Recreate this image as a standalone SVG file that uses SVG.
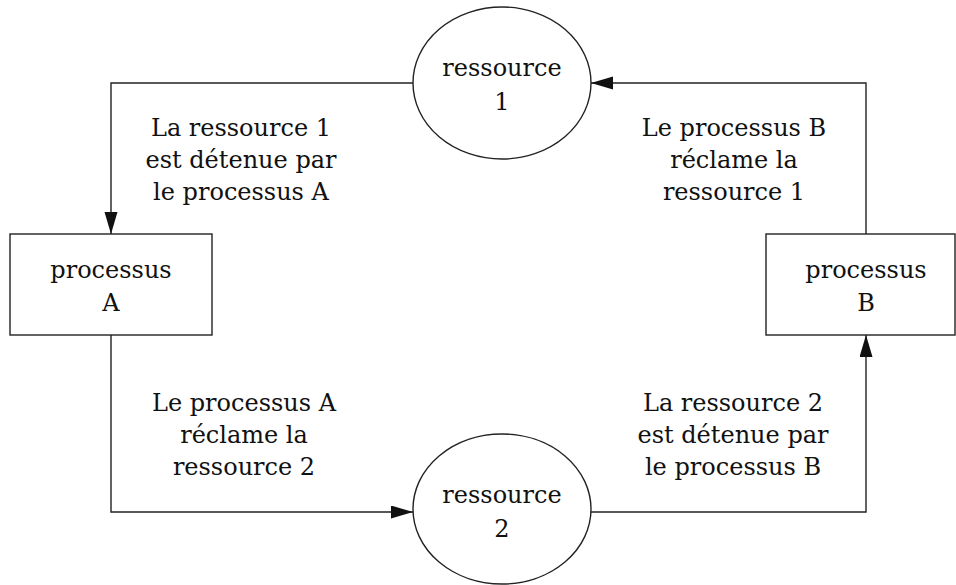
<svg xmlns="http://www.w3.org/2000/svg" width="956" height="585" viewBox="0 0 956 585">
<style>
.shape{fill:#fff;stroke:#222;stroke-width:1.4}
.conn{fill:none;stroke:#222;stroke-width:1.4}
text{font-family:"DejaVu Serif","Liberation Serif",serif;font-size:24px;fill:#111;text-anchor:middle}
</style>
<defs>
<marker id="arr" markerUnits="userSpaceOnUse" markerWidth="24" markerHeight="14" refX="22" refY="6.5" orient="auto">
<path d="M0,0 L22,6.5 L0,13 Z" fill="#111"/>
</marker>
</defs>
<rect width="956" height="585" fill="#fff"/>
<g id="connectors">
<polyline class="conn" points="413,83 111,83 111,234" marker-end="url(#arr)"/>
<polyline class="conn" points="111,335 111,512 413,512" marker-end="url(#arr)"/>
<polyline class="conn" points="591,512 866,512 866,335" marker-end="url(#arr)"/>
<polyline class="conn" points="866,234 866,83 591,83" marker-end="url(#arr)"/>
</g>
<g id="ressource1">
<ellipse class="shape" cx="502" cy="83" rx="89" ry="76"/>
<text x="502" y="76">ressource</text>
<text x="502" y="110">1</text>
</g>
<g id="ressource2">
<ellipse class="shape" cx="502" cy="509" rx="89" ry="75"/>
<text x="502" y="503">ressource</text>
<text x="502" y="537">2</text>
</g>
<g id="processusA">
<rect class="shape" x="10" y="234" width="202" height="101"/>
<text x="111" y="278">processus</text>
<text x="111" y="311">A</text>
</g>
<g id="processusB">
<rect class="shape" x="766" y="234" width="189" height="101"/>
<text x="866" y="278">processus</text>
<text x="866" y="311">B</text>
</g>
<g id="label1">
<text x="241" y="136">La ressource 1</text>
<text x="241" y="168">est détenue par</text>
<text x="241" y="200">le processus A</text>
</g>
<g id="label2">
<text x="734" y="136">Le processus B</text>
<text x="734" y="168">réclame la</text>
<text x="734" y="200">ressource 1</text>
</g>
<g id="label3">
<text x="244" y="411">Le processus A</text>
<text x="244" y="443">réclame la</text>
<text x="244" y="475">ressource 2</text>
</g>
<g id="label4">
<text x="733" y="411">La ressource 2</text>
<text x="733" y="443">est détenue par</text>
<text x="733" y="475">le processus B</text>
</g>
</svg>
